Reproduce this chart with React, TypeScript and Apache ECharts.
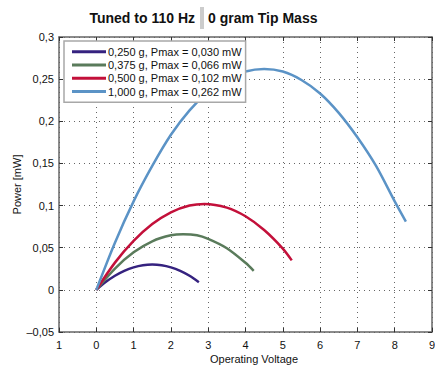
import React, { useEffect, useRef } from "react";
import * as echarts from "echarts";

const seriesNames = [
  "0,250 g, Pmax = 0,030 mW",
  "0,375 g, Pmax = 0,066 mW",
  "0,500 g, Pmax = 0,102 mW",
  "1,000 g, Pmax = 0,262 mW",
];
const seriesColors = ["#35227f", "#5a7b5b", "#c3103a", "#5b93c6"];

const s250: [number, number][] = [
  [0, 0], [0.25, 0.0092], [0.5, 0.0167], [0.75, 0.0225], [1, 0.0267], [1.25, 0.0292],
  [1.5, 0.030], [1.75, 0.0292], [2, 0.0267], [2.25, 0.0225], [2.5, 0.0167], [2.75, 0.009],
];
const s375: [number, number][] = [
  [0, 0], [0.5, 0.0253], [1, 0.0445], [1.5, 0.0576], [2, 0.0647], [2.33, 0.066],
  [2.7, 0.0648], [3, 0.0605], [3.5, 0.0494], [4, 0.0321], [4.22, 0.0226],
];
const s500: [number, number][] = [
  [0, 0], [0.5, 0.0323], [1, 0.058], [1.5, 0.078], [2, 0.092], [2.5, 0.100],
  [2.9, 0.102], [3.5, 0.0976], [4, 0.0873], [4.5, 0.071], [5, 0.049], [5.24, 0.035],
];
const s1000: [number, number][] = [
  [0, 0], [0.5, 0.056], [1, 0.105], [1.5, 0.147], [2, 0.184], [2.5, 0.213],
  [3, 0.235], [3.5, 0.250], [4, 0.259], [4.5, 0.262], [5, 0.259], [5.5, 0.249],
  [6, 0.233], [6.5, 0.210], [7, 0.181], [7.5, 0.147], [8, 0.105], [8.3, 0.081],
];
const seriesData = [s250, s375, s500, s1000];

const xTickLabels = ["1", "0", "1", "2", "3", "4", "5", "6", "7", "8", "9"];
const yTickLabels = ["\u20130,05", "0", "0,05", "0,1", "0,15", "0,2", "0,25", "0,3"];

const titleLeft = "Tuned to 110 Hz";
const titleRight = "0 gram Tip Mass";
const xName = "Operating Voltage";
const yName = "Power [mW]";

const FONT = "'Liberation Sans', Arial, sans-serif";

export default function App() {
  const ref = useRef<HTMLDivElement>(null);
  useEffect(() => {
    document.body.style.margin = "0";
    const chart = echarts.init(ref.current!, null, { renderer: "svg" });
    const gridLine = { show: true, lineStyle: { color: "#666", type: [1, 4] as any, width: 1 } };
    const axisLine = { show: true, onZero: false, lineStyle: { color: "#666", width: 1.5 } };
    const axisTick = { show: true, inside: true, length: 4, lineStyle: { color: "#333" } };
    chart.setOption({
      animation: false,
      textStyle: { fontFamily: FONT },
      grid: { left: 59, right: 3, top: 37, bottom: 33, containLabel: false, outerBoundsMode: "none" },
      graphic: [
        {
          type: "text", x: 195, y: 18,
          style: { text: titleLeft, fontFamily: FONT, fontSize: 14, fontWeight: "bold", fill: "#111", align: "right", verticalAlign: "middle" },
        },
        { type: "rect", shape: { x: 200, y: 7, width: 4, height: 22 }, style: { fill: "#cccccc" } },
        {
          type: "text", x: 208, y: 18,
          style: { text: titleRight, fontFamily: FONT, fontSize: 14, fontWeight: "bold", fill: "#111", align: "left", verticalAlign: "middle" },
        },
      ],
      legend: {
        left: 64, top: 41, orient: "vertical",
        data: seriesNames.map((n) => ({ name: n, icon: "rect" })),
        itemWidth: 34, itemHeight: 3, itemGap: 2,
        padding: [5, 4, 5, 8],
        backgroundColor: "#fff",
        borderColor: "#a8a8a8", borderWidth: 1.5, borderRadius: 0,
        textStyle: { fontFamily: FONT, fontSize: 11, color: "#111", padding: [0, 0, 0, -3], lineHeight: 11.3 },
        selectedMode: false,
      },
      xAxis: [
        {
          type: "value", min: -1, max: 9, interval: 1, position: "bottom",
          name: xName, nameLocation: "middle", nameGap: 21, nameMoveOverlap: false,
          nameTextStyle: { fontFamily: FONT, fontSize: 11, color: "#111", padding: [0, 0, 0, 17] },
          axisLine, axisTick, splitLine: gridLine,
          axisLabel: { fontFamily: FONT, fontSize: 11, color: "#111", margin: 7, formatter: (v: number) => xTickLabels[Math.round(v + 1)] },
        },
        {
          type: "value", min: -1, max: 9, interval: 1, position: "top",
          axisLine, axisTick, splitLine: { show: false }, axisLabel: { show: false },
        },
      ],
      yAxis: [
        {
          type: "value", min: -0.05, max: 0.3, interval: 0.05, position: "left",
          name: yName, nameLocation: "middle", nameGap: 37, nameMoveOverlap: false,
          nameTextStyle: { fontFamily: FONT, fontSize: 11, color: "#111" },
          axisLine, axisTick, splitLine: gridLine,
          axisLabel: { fontFamily: FONT, fontSize: 11, color: "#111", margin: 5, formatter: (v: number) => yTickLabels[Math.round((v + 0.05) / 0.05)] },
        },
        {
          type: "value", min: -0.05, max: 0.3, interval: 0.05, position: "right",
          axisLine, axisTick, splitLine: { show: false }, axisLabel: { show: false },
        },
      ],
      series: seriesData.map((d, i) => ({
        name: seriesNames[i],
        type: "line",
        data: d,
        smooth: 0.3,
        showSymbol: false,
        symbol: "none",
        lineStyle: { color: seriesColors[i], width: 2.5 },
        itemStyle: { color: seriesColors[i] },
        xAxisIndex: 0, yAxisIndex: 0,
      })),
    });
    return () => chart.dispose();
  }, []);
  return <div ref={ref} style={{ width: 435, height: 365 }} />;
}
